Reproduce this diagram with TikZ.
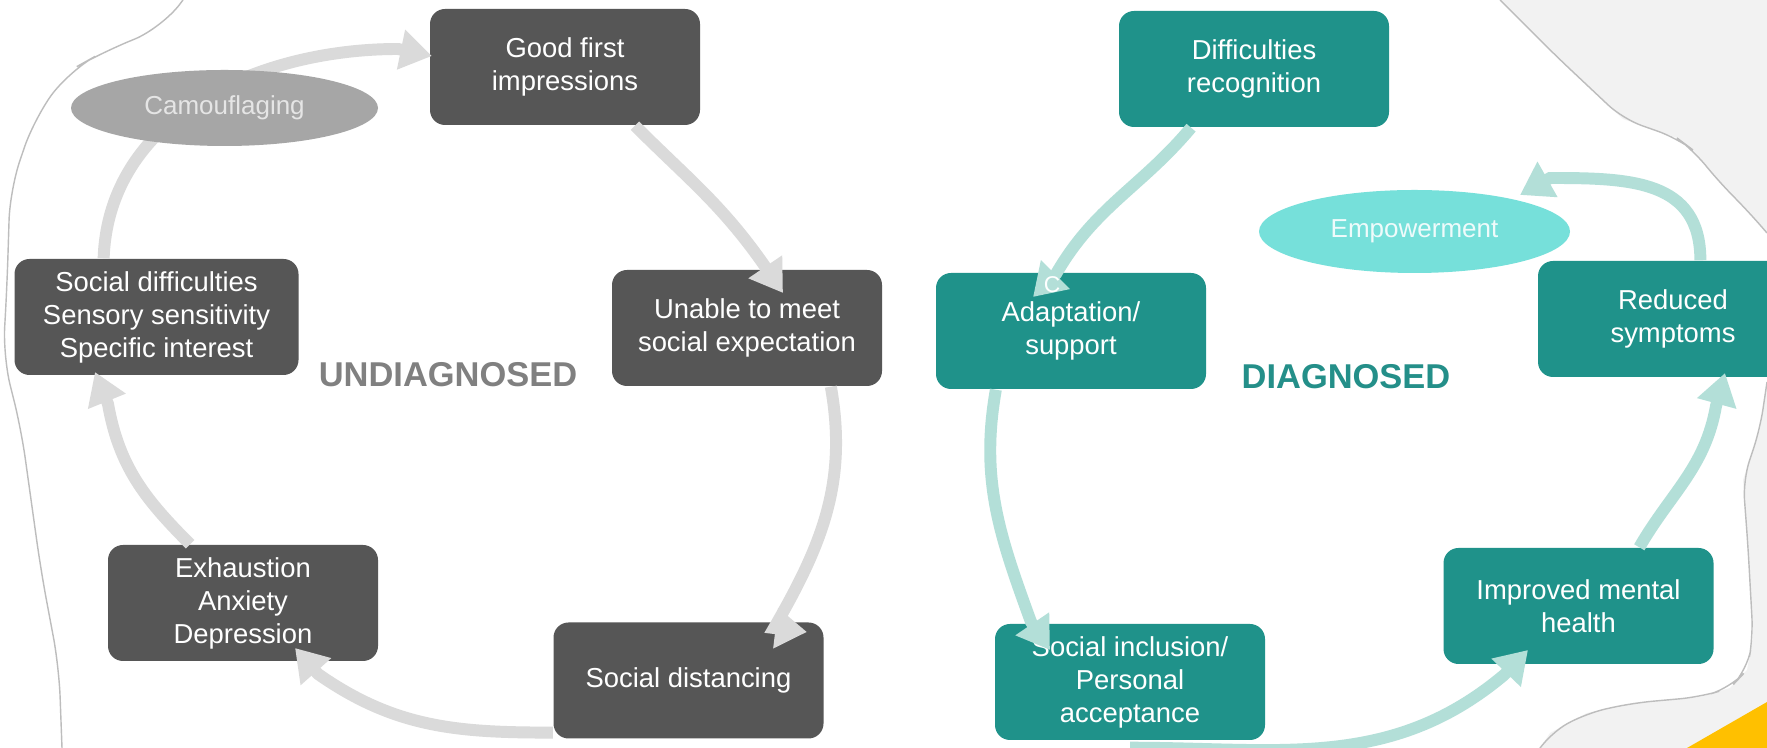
\documentclass[tikz,border=0pt]{standalone}
\usepackage{fontspec}
\setmainfont{Liberation Sans}
\usetikzlibrary{shapes.geometric,arrows.meta}
\definecolor{boxgrey}{HTML}{565656}
\definecolor{boxteal}{HTML}{1F928A}
\definecolor{arrowgrey}{HTML}{DADADA}
\definecolor{arrowteal}{HTML}{B3DFD8}
\definecolor{camofill}{HTML}{A6A6A6}
\definecolor{empfill}{HTML}{76E0DA}
\definecolor{labelgrey}{HTML}{808080}
\definecolor{labelteal}{HTML}{248F89}
\definecolor{paper}{HTML}{F2F2F2}
\definecolor{edge}{HTML}{BDBDBD}
\definecolor{gold}{HTML}{FFC000}
\tikzset{
  gbox/.style={rectangle, rounded corners=0.15cm, fill=boxgrey, text=white, minimum width=2.7cm, minimum height=1.16cm, align=center, inner sep=2pt, font=\fontsize{7.8}{9.4}\selectfont},
  tbox/.style={gbox, fill=boxteal},
  oval/.style={ellipse, inner sep=0pt, font=\fontsize{7.4}{9}\selectfont},
  garrow/.style={draw=arrowgrey, line width=3.4pt, -{Triangle[width=11pt,length=9pt]}},
  tarrow/.style={garrow, draw=arrowteal},
  cutline/.style={draw=edge, rounded corners=2mm},
}
\begin{document}
\begin{tikzpicture}
\useasboundingbox (0,0) rectangle (17.67,7.48);
\fill[white] (0,0) rectangle (17.67,7.48);
\fill[paper] (15.00,7.48) -- (15.55,6.93) -- (16.23,6.29) -- (16.77,6.10) -- (16.93,5.98) -- (17.20,5.65) -- (17.47,5.38) -- (17.67,5.15) -- (17.67,7.48) -- cycle;
\fill[paper] (17.67,3.66) -- (17.60,3.19) -- (17.43,2.68) -- (17.48,2.01) -- (17.53,1.11) -- (17.47,0.78) -- (17.30,0.60) -- (17.00,0.51) -- (16.33,0.45) -- (15.87,0.35) -- (15.50,0.15) -- (15.40,0) -- (17.67,0) -- cycle;
\draw[cutline] (15.00,7.48) -- (15.55,6.93) -- (16.23,6.29) -- (16.77,6.10) -- (16.93,5.98) -- (17.20,5.65) -- (17.47,5.38) -- (17.67,5.15);
\draw[cutline] (17.67,3.66) -- (17.60,3.19) -- (17.43,2.68) -- (17.48,2.01) -- (17.53,1.11) -- (17.47,0.78) -- (17.30,0.60) -- (17.00,0.51) -- (16.33,0.45) -- (15.87,0.35) -- (15.50,0.15) -- (15.40,0);
\draw[cutline, rounded corners=3mm] (1.83,7.48) -- (1.62,7.20) -- (1.03,6.96) -- (0.69,6.77) -- (0.34,6.29) -- (0.10,5.58) -- (0.07,4.62) -- (0.03,3.91) -- (0.21,3.20) -- (0.41,1.77) -- (0.59,0.81) -- (0.62,0);
\fill[gold] (16.87,0) -- (17.67,0.46) -- (17.67,0) -- cycle;
\node[gbox] (u0) at (5.65,6.81){Good first\\impressions};
\node[gbox] (u1) at (7.47,4.20){Unable to meet\\social expectation};
\node[gbox] (u2) at (6.885,0.675){Social distancing};
\node[gbox] (u3) at (2.43,1.45){Exhaustion\\Anxiety\\Depression};
\node[gbox, minimum width=2.84cm] (u4) at (1.565,4.31){Social difficulties\\Sensory sensitivity\\Specific interest};
\node[tbox] (d0) at (12.54,6.79){Difficulties\\recognition};
\node[tbox] (d1) at (10.71,4.17){Adaptation/\\support};
\node[tbox] (d2) at (11.30,0.66){Social inclusion/\\Personal\\acceptance};
\node[tbox] (d3) at (15.785,1.42){Improved mental\\health};
\node[tbox] (d4) at (16.73,4.29){Reduced\\symptoms};
\coordinate (t0) at (4.32,6.92);
\coordinate (t1) at (7.83,4.55);
\coordinate (t2) at (8.07,1.16);
\coordinate (t3) at (2.95,1.00);
\coordinate (t4) at (0.95,3.76);
\draw[garrow] (u4.132) to[out=88,in=180] (3.98,6.99) -- (t0);
\draw[garrow] (u0.-40) to[out=-45,in=125] (7.64,4.83) -- (t1);
\draw[garrow] (u1.-35) to[out=-80,in=60] (7.74,1.20) -- (t2);
\draw[garrow] (u2.201) to[out=180,in=-35] (3.18,0.74) -- (t3);
\draw[garrow] (u3.132) to[out=135,in=-80] (1.08,3.44) -- (t4);
\coordinate (s0) at (10.33,4.51);
\coordinate (s1) at (10.50,0.98);
\coordinate (s2) at (15.28,0.98);
\coordinate (s3) at (17.25,3.75);
\coordinate (s4) at (15.20,5.53);
\draw[tarrow] (d0.-137) to[out=-130,in=60] (10.56,4.74) -- (s0);
\draw[tarrow] (d1.218) to[out=-100,in=110] (10.31,1.26) -- (s1);
\draw[tarrow] ([yshift=-0.7mm]d2.south) to[out=0,in=-140] (15.04,0.73) -- (s2);
\draw[tarrow] (d3.44) to[out=60,in=-100] (17.16,3.42) -- (s3);
\draw[tarrow] (d4.65) to[out=90,in=0,looseness=1.2] (15.50,5.70) -- (s4);
\node[oval, fill=camofill, text=white!90!black, minimum width=3.07cm, minimum height=0.76cm] (u5) at (2.245,6.40){Camouflaging};
\node[oval, fill=empfill, text=white!88!empfill, minimum width=3.11cm, minimum height=0.83cm] (d5) at (14.145,5.165){Empowerment};
\node[text=labelgrey, font=\fontsize{9.8}{12}\selectfont\bfseries] (ulabel) at (4.48,3.73){UNDIAGNOSED};
\node[text=labelteal, font=\fontsize{9.8}{12}\selectfont\bfseries] (dlabel) at (13.46,3.71){DIAGNOSED};
\node[text=white, inner sep=0pt, font=\fontsize{6.5}{8}\selectfont] (cmark) at (10.52,4.63){C};
\end{tikzpicture}
\end{document}
